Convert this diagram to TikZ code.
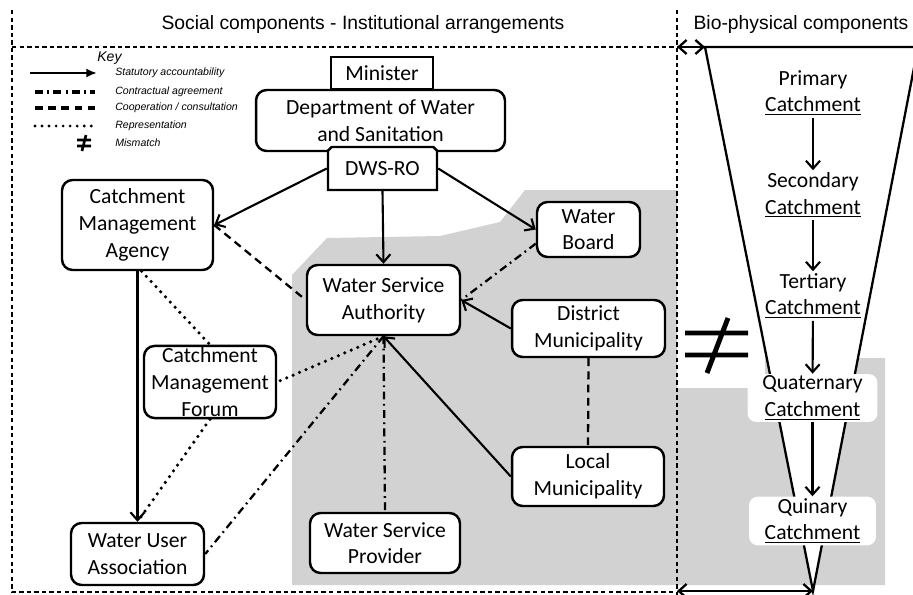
\documentclass[tikz,border=0pt]{standalone}
\usepackage{fontspec}
\setmainfont{Carlito}
\newfontfamily\arialfont{Liberation Sans}
\usetikzlibrary{arrows.meta, positioning, shapes.misc, calc}
\newcommand{\boxfont}{\fontsize{12.3}{15.2}\selectfont}
\tikzset{
  >={Straight Barb[length=4.5pt, width=8pt]},
  box/.style={draw, line width=1.4pt, rounded corners=6pt, fill=white,
    align=center, inner sep=1pt, font=\boxfont},
  plainbox/.style={box, rounded corners=0pt, line width=0.9pt},
  cutbox/.style={box, rounded corners=0pt, chamfered rectangle,
    chamfered rectangle corners={north west, north east},
    chamfered rectangle xsep=1pt, chamfered rectangle ysep=1pt},
  catch/.style={align=center, inner sep=1pt, font=\boxfont,
    minimum width=2.6cm, minimum height=0.9cm},
  catchbox/.style={catch, fill=white, rounded corners=5pt},
  statutory/.style={->, line width=1.2pt},
  contract/.style={line width=1.3pt, dash pattern=on 4.5pt off 2.5pt on 1pt off 2.5pt},
  coop/.style={line width=1.3pt, dash pattern=on 4.5pt off 3pt},
  repr/.style={line width=2pt, line cap=round, dash pattern=on 0pt off 4pt},
  frame/.style={line width=0.6pt, dash pattern=on 2.5pt off 1.8pt},
  greyzone/.style={fill=gray!35},
  title/.style={font=\arialfont\fontsize{11}{13}\selectfont},
  keytext/.style={anchor=west, inner sep=0pt, font=\arialfont\itshape\fontsize{6}{7}\selectfont},
}

\begin{document}
\begin{tikzpicture}[x=0.02cm, y=-0.02cm]
    \useasboundingbox (0,0) rectangle (913,595);
    % grey area
    \fill[greyzone] (292,585) -- (292,275) -- (327,238) -- (440,236) -- (500,222)
        -- (525,190) -- (677,190) -- (677,388) -- (765,388) -- (765,358)
        -- (885,358) -- (885,585) -- cycle;
    % frame
    \draw[frame] (12,10) -- (12,592) -- (677,592);
    \draw[frame] (12,47) -- (677,47);
    \draw[frame] (677,10) -- (677,595);
    % titles
    \node[title] (soctitle) at (363,25) {Social components - Institutional arrangements};
    \node[title] (biotitle) at (801,25) {Bio-physical components};
    % funnel
    \coordinate (ftl) at (705,47);
    \coordinate (ftr) at (918,47);
    \coordinate (fbot) at (813,591);
    \coordinate (divtop) at (677,47);
    \coordinate (divbot) at (677,591);
    \filldraw[fill=white, line width=1.3pt] (ftl) -- (ftr) -- (fbot) -- cycle;
    \draw[<->, line width=1.3pt] (divtop) -- (ftl);
    \draw[<->, line width=1.3pt] (divbot) -- (fbot);
    % mismatch
    \draw[line width=2.8pt] (685,333) -- (748,333) (685,355) -- (748,355) (728,318) -- (707,373);

    % key
    \node[keytext, font=\arialfont\itshape\fontsize{8}{9}\selectfont] (keyhead) at (97,58) {Key};
    \draw[-{Latex[length=6pt, width=5pt]}, line width=1.6pt] (30,73) -- (97,73);
    \node[keytext] (key1) at (115,73) {Statutory accountability};
    \foreach \ky/\kstyle/\ktext in {92/contract/Contractual agreement,
            108/coop/{Cooperation / consultation}, 126/repr/Representation}{
        \draw[\kstyle, line width=1.8pt] (35,\ky) -- (95,\ky);
        \node[keytext] (key\ky) at (115,\ky) {\ktext};
    }
    \draw[line width=1.5pt] (77,140) -- (91,140) (77,146) -- (91,146) (86,135) -- (82,151);
    \node[keytext] (key5) at (115,143) {Mismatch};

    % institutions
    \node[box, minimum width=4.98cm, minimum height=1.22cm] (dws) at (380.5,120.5)
        {Department of Water\\and Sanitation};
    \node[plainbox, minimum width=2.04cm, minimum height=0.64cm] (minister) at (382,73) {Minister};
    \node[cutbox, minimum width=2.18cm, minimum height=0.86cm] (dwsro) at (382.5,168.5) {DWS-RO};
    \node[box, minimum width=3.02cm, minimum height=1.8cm] (cma) at (137.5,225)
        {Catchment\\Management\\Agency};
    \node[box, minimum width=2.06cm, minimum height=1.1cm] (wb) at (588.5,229.5) {Water\\Board};
    \node[box, minimum width=3.06cm, minimum height=1.4cm] (wsa) at (383.5,300)
        {Water Service\\Authority};
    \node[box, minimum width=3.06cm, minimum height=1.14cm] (dm) at (588.5,328.5)
        {District\\Municipality};
    \node[box, minimum width=2.64cm, minimum height=1.4cm] (cmf) at (210,382)
        {Catchment\\Management\\Forum};
    \node[box, minimum width=3.04cm, minimum height=1.18cm] (lm) at (588,476.5)
        {Local\\Municipality};
    \node[box, minimum width=3cm, minimum height=1.2cm] (wsp) at (385,543)
        {Water Service\\Provider};
    \node[box, minimum width=2.66cm, minimum height=1.24cm] (wua) at (137.5,554)
        {Water User\\Association};

    % links
    \draw[statutory] (dwsro.west) -- (cma.east);
    \draw[statutory] (dwsro.south) -- (wsa.north);
    \draw[statutory] (dwsro.east) -- (wb.west);
    \draw[coop] (cma.east) -- (wsa.west);
    \draw[contract] (wb.195) -- (wsa.east);
    \draw[statutory] (dm.west) -- (wsa.east);
    \draw[statutory] (lm.west) -- (wsa.south);
    \draw[contract] (wsa.south) -- (wsp.north);
    \draw[repr] (wsa.south) -- (cmf.east);
    \draw[contract] (wsa.south) -- (wua.east);
    \draw[statutory] (cma.south) -- (wua.north);
    \draw[repr] (cma.-85) -- (cmf.north);
    \draw[repr] (cmf.south) -- (wua.north);
    \draw[coop] (dm.south) -- (lm.north);

    % catchments
    \node[catch] (prim) at (813,93) {Primary\\\underline{Catchment}};
    \node[catch] (sec) at (813,195) {Secondary\\\underline{Catchment}};
    \node[catch] (tert) at (813,296) {Tertiary\\\underline{Catchment}};
    \node[catchbox] (quat) at (812.5,398) {Quaternary\\\underline{Catchment}};
    \node[catchbox, minimum width=2.54cm, minimum height=0.88cm] (quin) at (812.5,521)
        {Quinary\\\underline{Catchment}};
    \foreach \a/\b in {prim/sec, sec/tert, tert/quat, quat/quin}{
        \draw[statutory] (\a) -- (\b);
    }
\end{tikzpicture}
\end{document}
